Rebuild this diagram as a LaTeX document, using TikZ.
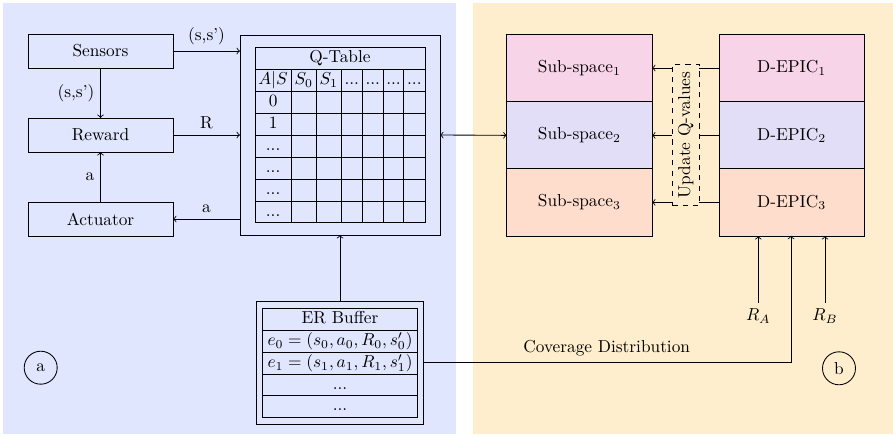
\documentclass[tikz,border=0pt]{standalone}
\usepackage{graphicx}
\usetikzlibrary{arrows}

\definecolor{bgblue}{RGB}{223,230,253}
\definecolor{bgorange}{RGB}{255,238,205}
\definecolor{cpink}{RGB}{248,212,232}
\definecolor{clav}{RGB}{227,222,248}
\definecolor{cpeach}{RGB}{255,221,204}

% one drawing unit
\def\pxu{0.578pt}

\tikzset{
  blk/.style={draw, line width=0.5pt, inner sep=0pt, outer sep=0pt},
  cell/.style={inner sep=0pt, text height=7pt, text depth=2pt},
  arr/.style={->, line width=0.5pt},
  gridln/.style={line width=0.45pt},
  stackbox/.style={blk, minimum width=145.3*\pxu, minimum height=67.4*\pxu},
  sidebox/.style={blk, minimum width=145*\pxu, minimum height=34*\pxu},
  tag/.style={circle, draw, line width=0.5pt, minimum size=33*\pxu, inner sep=0pt},
}

\begin{document}
\begin{tikzpicture}[x=0.578pt, y=-0.578pt]
\useasboundingbox (0,0) rectangle (893,435);

% panel backgrounds
\fill[bgblue] (3,3) rectangle (456,434);
\fill[bgorange] (473,3) rectangle (893,434);

% ---------- panel (a) ----------
\node[sidebox] (sens) at (100.5,51) {Sensors};
\node[sidebox] (rew) at (100.5,135) {Reward};
\node[sidebox] (act) at (100.5,219) {Actuator};

% Q-table frame and grid
\node[blk, minimum width=200*\pxu, minimum height=200*\pxu] (qbox) at (340,135) {};
\draw[gridln] (255,47.3) rectangle (425,222.7);
\foreach \yy in {69.3,91,113,135,157,179,201}
  \draw[gridln] (255,\yy) -- (425,\yy);
\foreach \xx in {291.3,316.3,341.3,362.3,383.3,403.7}
  \draw[gridln] (\xx,69.3) -- (\xx,222.7);

\node[cell] (qtitle) at (340,58.3) {Q-Table};
\node[cell] (qh1) at (273.15,80.2) {$A|S$};
\node[cell] (qh2) at (303.8,80.2) {$S_0$};
\node[cell] (qh3) at (328.8,80.2) {$S_1$};
\node[cell] (qh4) at (351.8,80.2) {...};
\node[cell] (qh5) at (372.8,80.2) {...};
\node[cell] (qh6) at (393.5,80.2) {...};
\node[cell] (qh7) at (414.35,80.2) {...};
\node[cell] (qr1) at (273.15,102.2) {0};
\node[cell] (qr2) at (273.15,124.2) {1};
\node[cell] (qr3) at (273.15,146) {...};
\node[cell] (qr4) at (273.15,168) {...};
\node[cell] (qr5) at (273.15,190) {...};
\node[cell] (qr6) at (273.15,211.85) {...};

% experience replay buffer
\node[blk, minimum width=166.6*\pxu, minimum height=122.3*\pxu] (er) at (340,362.85) {};
\draw[gridln] (262.3,308.3) rectangle (417.7,417.3);
\foreach \yy in {330,352.3,374.3,395.7}
  \draw[gridln] (262.3,\yy) -- (417.7,\yy);
\node[cell] (ert) at (340,319.15) {ER Buffer};
\node[cell] (er0) at (340,341.15) {$e_0=(s_0,a_0,R_0,s'_0)$};
\node[cell] (er1) at (340,363.3) {$e_1=(s_1,a_1,R_1,s'_1)$};
\node[cell] (er2) at (340,384.9) {...};
\node[cell] (er3) at (340,406.5) {...};

% panel (a) connectors
\draw[arr] (sens.east) -- (sens.east -| qbox.west) node[midway, above] {(s,s')};
\draw[arr] (sens.south) -- (rew.north) node[midway, left] {(s,s')};
\draw[arr] (rew.east) -- (rew.east -| qbox.west) node[midway, above] {R};
\draw[arr] (act.east -| qbox.west) -- (act.east) node[midway, above] {a};
\draw[arr] (act.north) -- (rew.south) node[midway, left] {a};
\draw[arr] (er.north) -- (qbox.south);

\node[tag] (taga) at (40.7,367.7) {a};

% ---------- panel (b) ----------
\node[stackbox, fill=cpink] (sub1) at (579.35,68) {Sub-space$_1$};
\node[stackbox, fill=clav] (sub2) at (579.35,135.35) {Sub-space$_2$};
\node[stackbox, fill=cpeach] (sub3) at (579.35,202.35) {Sub-space$_3$};
\node[stackbox, fill=cpink] (dep1) at (791.65,68) {D-EPIC$_1$};
\node[stackbox, fill=clav] (dep2) at (791.65,135.35) {D-EPIC$_2$};
\node[stackbox, fill=cpeach] (dep3) at (791.65,202.35) {D-EPIC$_3$};

\node[draw, dashed, line width=0.5pt, inner sep=0pt, outer sep=0pt,
      minimum width=26.7*\pxu, minimum height=141.4*\pxu] (upd) at (685.7,135)
      {\rotatebox{90}{Update Q-values}};

\foreach \i in {1,2,3} {
  \draw[line width=0.5pt] (dep\i.west) -- (dep\i.west -| upd.east);
  \draw[arr] (sub\i.east -| upd.west) -- (sub\i.east);
}

\draw[<->, line width=0.5pt] (qbox.east) -- (sub2.west);

% reward inputs and coverage feed
\node[anchor=north] (ra) at (758.3,303) {$R_A$};
\node[anchor=north] (rb) at (825,303) {$R_B$};
\draw[arr] (ra.north) -- (ra.north |- dep3.south);
\draw[arr] (rb.north) -- (rb.north |- dep3.south);

\coordinate (covin) at (791,235.7);
\draw[arr] (er.east) -| (covin);
\node (covlbl) at (606.7,348.5) {Coverage Distribution};

\node[tag] (tagb) at (839,368.3) {b};
\end{tikzpicture}
\end{document}
